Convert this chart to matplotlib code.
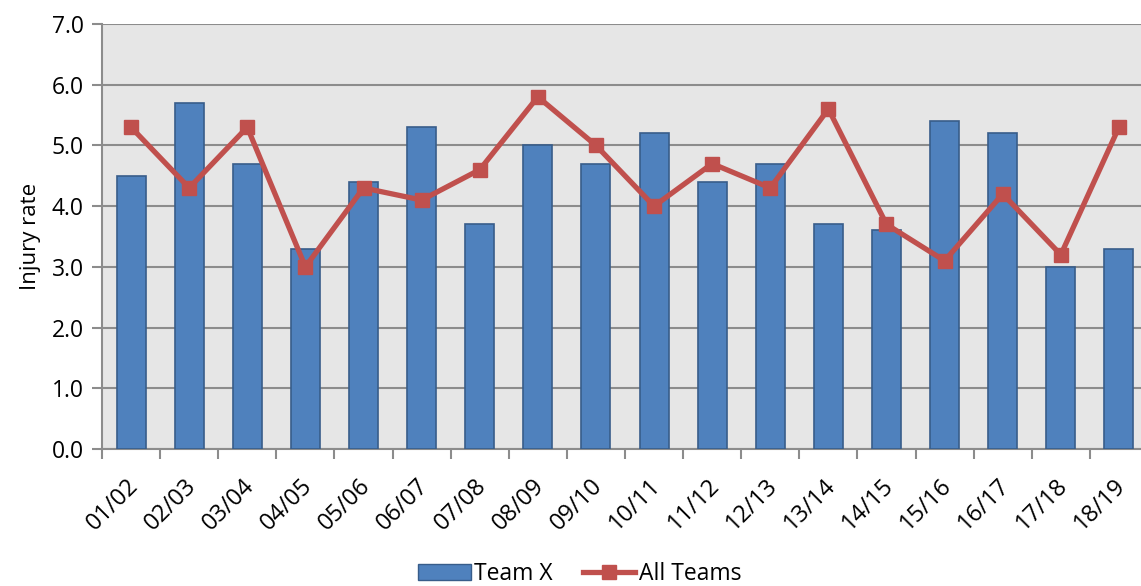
import matplotlib.pyplot as plt
from matplotlib.lines import Line2D
from matplotlib.patches import Patch
from matplotlib.transforms import ScaledTranslation

seasons = ['01/02', '02/03', '03/04', '04/05', '05/06', '06/07', '07/08', '08/09', '09/10',
           '10/11', '11/12', '12/13', '13/14', '14/15', '15/16', '16/17', '17/18', '18/19']
team_x = [4.5, 5.7, 4.7, 3.3, 4.4, 5.3, 3.7, 5.0, 4.7, 5.2, 4.4, 4.7, 3.7, 3.6, 5.4, 5.2, 3.0, 3.3]
all_teams = [5.3, 4.3, 5.3, 3.0, 4.3, 4.1, 4.6, 5.8, 5.0, 4.0, 4.7, 4.3, 5.6, 3.7, 3.1, 4.2, 3.2, 5.3]

plt.rcParams['font.family'] = ['Open Sans', 'DejaVu Sans']

fig = plt.figure(figsize=(11.41, 5.86), dpi=100)
ax = fig.add_axes([102 / 1141, (586 - 449) / 586, (1148 - 102) / 1141, (449 - 24) / 586])
ax.set_facecolor('#E6E6E6')

x = list(range(len(seasons)))
ax.bar(x, team_x, width=0.5, color='#4F81BD', edgecolor='#385D8A', linewidth=1.2, zorder=3)
ax.plot(x, all_teams, color='#C0504D', linewidth=3.8, marker='s', markersize=10, zorder=4)

ax.set_xlim(-0.5, len(seasons) - 0.5)
ax.set_ylim(0, 7)
ax.set_yticks([i for i in range(8)])
ax.set_yticklabels(['%.1f' % i for i in range(8)], fontsize=16.5)
ax.yaxis.grid(True, color='#8C8C8C', linewidth=1.5, zorder=0)
ax.set_axisbelow(True)

ax.set_xticks(x)
ax.set_xticklabels(seasons, rotation=45, ha='right', rotation_mode='anchor', fontsize=17)
ax.tick_params(axis='x', length=0, pad=18)
ax.set_xticks([i - 0.5 for i in range(len(seasons) + 1)], minor=True)
ax.tick_params(axis='x', which='minor', length=7, width=1.5, color='#8C8C8C')
ax.tick_params(axis='y', length=7, width=1.5, color='#8C8C8C', pad=6)
shift = ScaledTranslation(-0.05, 0, fig.dpi_scale_trans)
for lab in ax.get_xticklabels():
    lab.set_transform(lab.get_transform() + shift)

for s in ['top', 'right']:
    ax.spines[s].set_visible(False)
for s in ['left', 'bottom']:
    ax.spines[s].set_color('#8C8C8C')
    ax.spines[s].set_linewidth(1.5)

ax.set_ylabel('Injury rate', fontsize=16, labelpad=8)

handles = [Patch(facecolor='#4F81BD', edgecolor='#385D8A', label='Team X'),
           Line2D([0], [0], color='#C0504D', linewidth=3.8, marker='s', markersize=10, label='All Teams')]
fig.legend(handles=handles, loc='center', bbox_to_anchor=(0.508, 0.02), ncol=2, frameon=False,
           fontsize=16.5, handlelength=2.3, columnspacing=1.3, handletextpad=0.15,
           borderpad=0.1)

fig.savefig('out.png', dpi=100)
